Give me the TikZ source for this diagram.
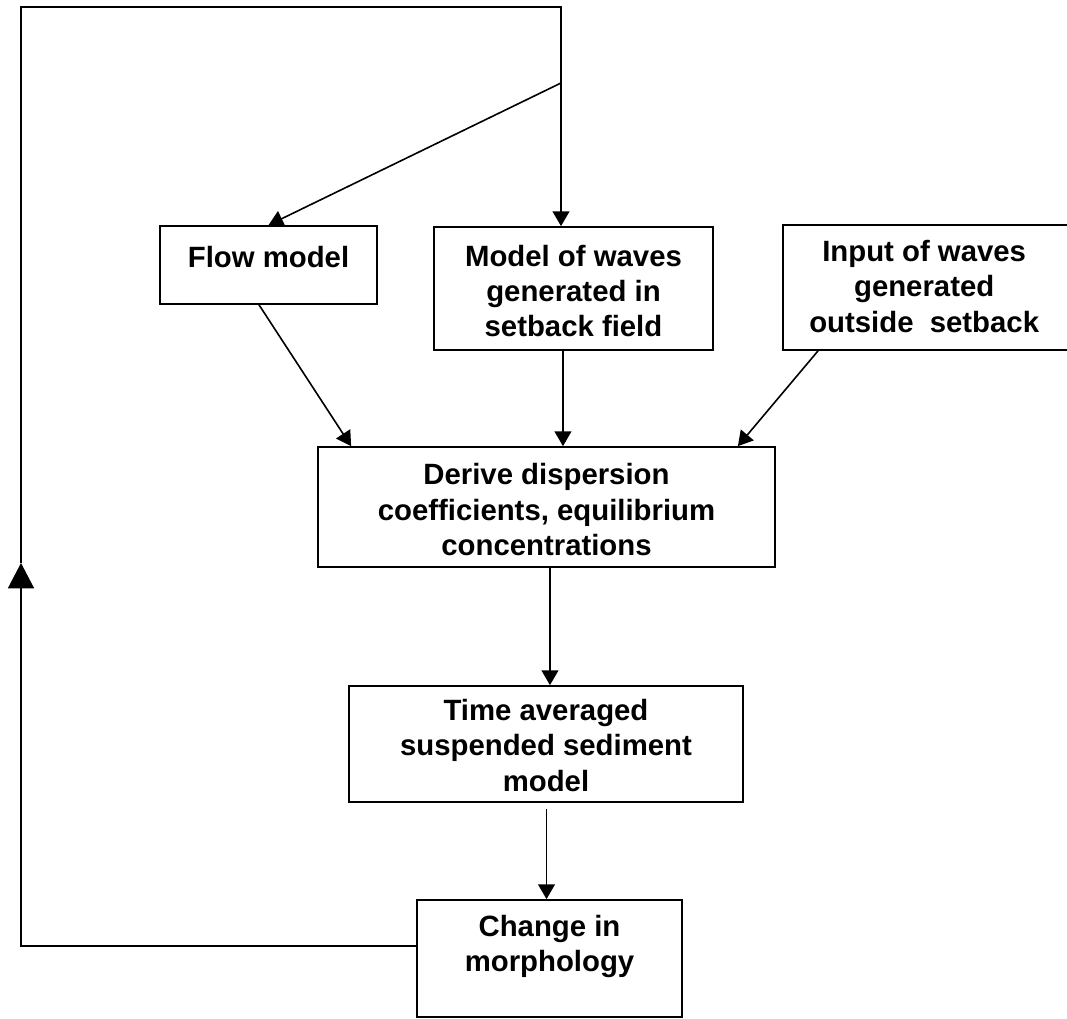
\documentclass[tikz,border=0pt]{standalone}
\usepackage{fontspec}
\setmainfont{Liberation Sans}
\usetikzlibrary{arrows.meta}
\begin{document}
\begin{tikzpicture}[x=0.75pt,y=-0.75pt,
  box/.style={draw, line width=1.3pt, rectangle, inner sep=0pt},
  txt/.style={anchor=north, inner sep=0pt, align=center,
    font=\bfseries\fontsize{22}{26.5}\selectfont},
  conn/.style={line width=1.2pt},
  arr/.style={conn, -{Triangle[length=11pt,width=12.5pt]}},
  bigarr/.style={conn, -{Triangle[length=19pt,width=19.5pt]}}]
\useasboundingbox (0,0) rectangle (1067,1019);

% boxes
\node[box, minimum width=217*0.75pt, minimum height=78*0.75pt] (flow) at (268.5,265) {};
\node[box, minimum width=279*0.75pt, minimum height=123*0.75pt] (model) at (573.5,288.5) {};
\node[box, minimum width=285*0.75pt, minimum height=125*0.75pt] (input) at (925.5,287.5) {};
\node[box, minimum width=457*0.75pt, minimum height=120*0.75pt] (derive) at (546.5,507) {};
\node[box, minimum width=394*0.75pt, minimum height=116*0.75pt] (time) at (546,744) {};
\node[box, minimum width=265*0.75pt, minimum height=117*0.75pt] (change) at (549.5,958.5) {};

% texts
\node[txt] (flowt) at ([yshift=-15.75pt]flow.north) {Flow model};
\node[txt] (modelt) at ([yshift=-14pt]model.north) {Model of waves\\generated in\\setback field};
\node[txt] (inputt) at ([yshift=-12pt,xshift=-1pt]input.north) {Input of waves\\generated\\outside\ \ setback};
\node[txt] (derivet) at ([yshift=-13pt]derive.north) {Derive dispersion\\coefficients, equilibrium\\concentrations};
\node[txt] (timet) at ([yshift=-10.5pt]time.north) {Time averaged\\suspended sediment\\model};
\node[txt] (changet) at ([yshift=-12pt]change.north) {Change in\\morphology};

% loop coordinates
\coordinate (tl) at (21,7);
\coordinate (tr) at (561,7);
\coordinate (bl) at (21,946);
\coordinate (mid) at (21,563);
\coordinate (split) at (561,83);

% feedback loop
\draw[bigarr] ([yshift=9.4pt]change.west) -- (bl) -- (mid);
\draw[arr] (mid) -- (tl) -- (tr) -- (tr |- model.north);
\draw[arr] (split) -- (flow.north);

% into derive
\draw[arr] ([xshift=-7.1pt]flow.south) -- ([xshift=25.5pt]derive.north west);
\draw[arr] ([xshift=-7.9pt]model.south) -- ([xshift=-7.9pt]model.south |- derive.north);
\draw[arr] ([xshift=-80.6pt]input.south) -- ([xshift=-28.5pt]derive.north east);

% down the chain
\draw[arr] ([xshift=2.6pt]derive.south) -- ([xshift=2.6pt]derive.south |- time.north);
\draw[arr] ([yshift=-4.5pt,xshift=0.4pt]time.south) -- ([xshift=0.4pt]time.south |- change.north);
\end{tikzpicture}
\end{document}
